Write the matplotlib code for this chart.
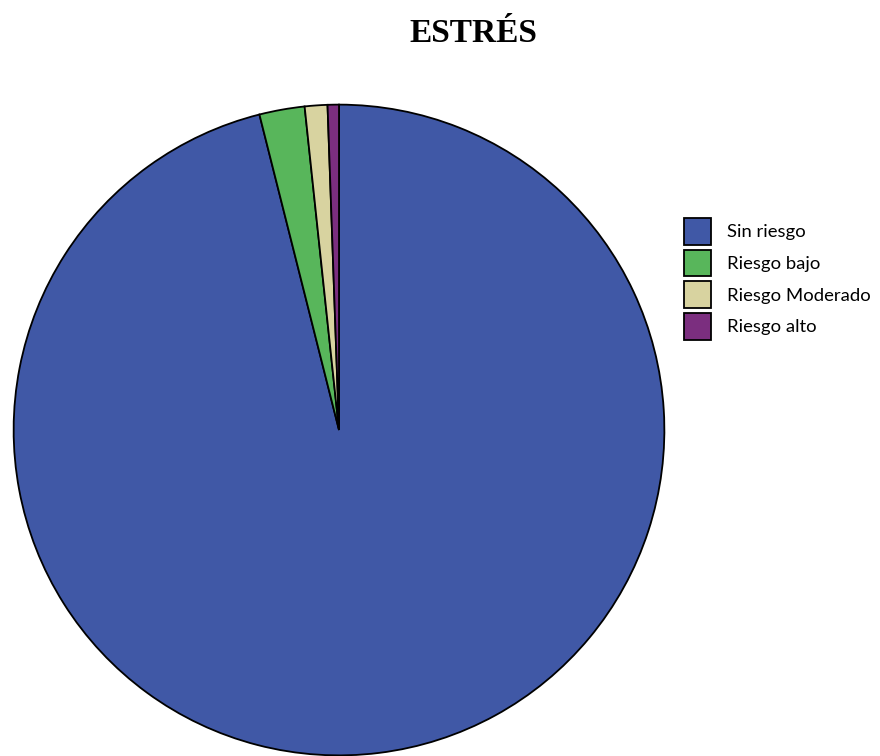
import matplotlib.pyplot as plt

# Data
labels = ['Sin riesgo', 'Riesgo bajo', 'Riesgo Moderado', 'Riesgo alto']
counts = [171, 4, 2, 1]
colors = ['#4058A6', '#58B65B', '#D8D3A0', '#7B2E7F']

fig = plt.figure(figsize=(8.8, 7.56), dpi=100)

# pie axes placed so the circle sits left of centre, as in the reference
ax = fig.add_axes([12 / 880, -1 / 756, 654 / 880, 654 / 756])
wedges, _ = ax.pie(counts, colors=colors, startangle=90, counterclock=False,
                   radius=1, wedgeprops=dict(edgecolor='black', linewidth=1.3))
ax.set_xlim(-1.005, 1.005)
ax.set_ylim(-1.005, 1.005)
ax.set_aspect('equal')
ax.axis('off')

fig.text(473 / 880, 1 - 33 / 756, 'ESTRÉS', ha='center', va='center',
         fontsize=24, fontweight='bold', family='Liberation Serif')

fig.legend(wedges, labels, loc='upper left', bbox_to_anchor=(684 / 880, 1 - 218 / 756),
           frameon=False, prop={'family': 'Lato', 'size': 13.3},
           borderpad=0, borderaxespad=0, handlelength=1.45, handleheight=1.85,
           labelspacing=0.27, handletextpad=0.9)

fig.savefig('out.png', dpi=100, facecolor='white')
